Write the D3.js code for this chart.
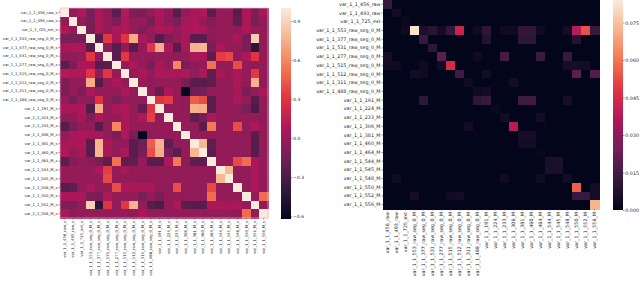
<!DOCTYPE html>
<html>
<head>
<meta charset="utf-8">
<script src="https://cdn.jsdelivr.net/npm/d3@7"></script>
<style>
  body { margin: 0; background: #fff; }
  svg { display: block; }
  text { font-family: "DejaVu Sans", sans-serif; fill: #262626; }
</style>
</head>
<body>
<svg id="chart" width="640" height="281"></svg>
<script>
// labels
const leftLabels = [
  "var_1_1_456_raw_s", "var_1_1_493_raw_s", "var_1_1_725_ext_s",
  "var_1_1_553_raw_seg_0_M_s", "var_1_1_377_raw_seg_0_M_s", "var_1_1_531_raw_seg_0_M_s",
  "var_1_1_277_raw_seg_0_M_s", "var_1_1_515_raw_seg_0_M_s", "var_1_1_512_raw_seg_0_M_s",
  "var_1_1_311_raw_seg_0_M_s", "var_1_1_488_raw_seg_0_M_s",
  "var_1_1_191_M_s", "var_1_1_224_M_s", "var_1_1_233_M_s", "var_1_1_306_M_s",
  "var_1_1_381_M_s", "var_1_1_460_M_s", "var_1_1_464_M_s", "var_1_1_544_M_s",
  "var_1_1_545_M_s", "var_1_1_548_M_s", "var_1_1_550_M_s", "var_1_1_552_M_s", "var_1_1_556_M_s"
];
const rightLabels = [
  "var_1_1_456_raw", "var_1_1_493_raw", "var_1_1_725_ext",
  "var_1_1_553_raw_seg_0_M", "var_1_1_377_raw_seg_0_M", "var_1_1_531_raw_seg_0_M",
  "var_1_1_277_raw_seg_0_M", "var_1_1_515_raw_seg_0_M", "var_1_1_512_raw_seg_0_M",
  "var_1_1_311_raw_seg_0_M", "var_1_1_488_raw_seg_0_M",
  "var_1_1_191_M", "var_1_1_224_M", "var_1_1_233_M", "var_1_1_306_M",
  "var_1_1_381_M", "var_1_1_460_M", "var_1_1_464_M", "var_1_1_544_M",
  "var_1_1_545_M", "var_1_1_548_M", "var_1_1_550_M", "var_1_1_552_M", "var_1_1_556_M"
];

// correlation matrix (left)
const leftValues = [
  [1, -0.03, 0.08, -0.12, 0.06, -0.04, -0.24, 0.09, -0.1, -0.11, -0.02, 0.07, -0.04, -0.26, -0.03, 0.06, 0.08, -0.24, -0.02, -0.01, -0.25, 0.07, -0.1, 0.05],
  [-0.03, 1, -0.02, -0.12, 0.07, -0.04, -0.11, 0.08, -0.03, -0.02, -0.13, 0.06, -0.04, -0.12, 0.05, 0.07, -0.03, -0.08, -0.02, -0.03, -0.22, 0.06, -0.12, -0.04],
  [0.08, -0.02, 1, -0.12, 0.06, -0.03, 0.07, 0.08, -0.03, -0.1, -0.03, 0.07, 0.06, -0.02, 0.07, 0.08, 0.06, -0.04, -0.03, -0.02, -0.04, 0.07, -0.03, -0.02],
  [-0.12, -0.12, -0.12, 1, -0.26, 0.32, 0.06, 0.3, 0.74, 0.07, -0.04, -0.27, -0.1, -0.03, 0.06, -0.24, -0.24, -0.05, -0.02, -0.03, 0.06, -0.11, 0.88, -0.03],
  [0.06, 0.07, 0.06, -0.26, 1, -0.04, -0.25, -0.02, -0.26, -0.03, 0.3, 0.74, 0.07, -0.26, 0.05, 0.76, 0.78, -0.12, 0.07, -0.02, -0.03, -0.11, -0.42, -0.04],
  [-0.04, -0.04, -0.03, 0.32, -0.04, 1, -0.24, 0.32, -0.03, -0.02, -0.04, -0.03, -0.02, -0.04, -0.03, 0.07, 0.06, -0.23, 0.33, 0.38, -0.03, 0.08, 0.3, -0.02],
  [-0.24, -0.11, 0.07, 0.06, -0.25, -0.24, 1, -0.02, 0.07, -0.03, -0.12, 0.06, -0.03, 0.6, -0.11, -0.04, -0.03, 0.52, -0.02, -0.03, 0.4, -0.02, -0.04, -0.03],
  [0.09, 0.08, 0.08, 0.3, -0.02, 0.32, -0.02, 1, -0.03, 0.07, -0.02, 0.08, 0.07, 0.06, 0.08, -0.03, 0.07, -0.22, 0.06, -0.03, 0.07, -0.02, 0.32, -0.03],
  [-0.1, -0.03, -0.03, 0.74, -0.26, -0.03, 0.07, -0.03, 1, -0.02, -0.04, -0.03, -0.02, -0.03, -0.12, -0.24, -0.25, -0.22, -0.03, -0.02, 0.06, -0.03, 0.76, -0.04],
  [-0.11, -0.02, -0.1, 0.07, -0.03, -0.02, -0.03, 0.07, -0.02, 1, -0.03, -0.2, 0.07, -0.02, -0.6, -0.16, -0.14, -0.03, -0.02, -0.04, 0.06, -0.12, -0.03, 0.06],
  [-0.02, -0.13, -0.03, -0.04, 0.3, -0.04, -0.12, -0.02, -0.04, -0.03, 1, 0.3, 0.34, -0.03, -0.04, 0.45, 0.4, -0.24, -0.03, -0.02, 0.05, -0.03, -0.26, -0.02],
  [0.07, 0.06, 0.07, -0.27, 0.74, -0.03, 0.06, 0.08, -0.03, -0.2, 0.3, 1, -0.03, -0.02, -0.04, 0.76, 0.74, -0.24, -0.03, -0.02, -0.04, -0.12, -0.3, -0.03],
  [-0.04, -0.04, 0.06, -0.1, 0.07, -0.02, -0.03, 0.07, -0.02, 0.07, 0.34, -0.03, 1, -0.02, -0.03, -0.22, -0.12, 0.07, -0.03, -0.02, -0.04, -0.03, -0.02, -0.04],
  [-0.26, -0.12, -0.02, -0.03, -0.26, -0.04, 0.6, 0.06, -0.03, -0.02, -0.03, -0.02, -0.02, 1, -0.03, -0.04, -0.24, 0.55, -0.03, -0.02, 0.4, -0.03, 0.07, -0.02],
  [-0.03, 0.05, 0.07, 0.06, 0.05, -0.03, -0.11, 0.08, -0.12, -0.6, -0.04, -0.04, -0.03, -0.03, 1, -0.03, -0.02, -0.04, -0.03, -0.02, -0.03, -0.04, -0.24, -0.03],
  [0.06, 0.07, 0.08, -0.24, 0.76, 0.07, -0.04, -0.03, -0.24, -0.16, 0.45, 0.76, -0.22, -0.04, -0.03, 1, 0.78, -0.22, -0.03, -0.02, -0.04, -0.03, -0.26, -0.02],
  [0.08, -0.03, 0.06, -0.24, 0.78, 0.06, -0.03, 0.07, -0.25, -0.14, 0.4, 0.74, -0.12, -0.24, -0.02, 0.78, 1, -0.24, -0.02, -0.03, -0.03, -0.04, -0.25, -0.03],
  [-0.24, -0.08, -0.04, -0.05, -0.12, -0.23, 0.52, -0.22, -0.22, -0.03, -0.24, -0.24, 0.07, 0.55, -0.04, -0.22, -0.24, 1, -0.03, -0.02, 0.38, 0.5, 0.07, -0.03],
  [-0.02, -0.02, -0.03, -0.02, 0.07, 0.33, -0.02, 0.06, -0.03, -0.02, -0.03, -0.03, -0.03, -0.03, -0.03, -0.03, -0.02, -0.03, 1, 0.78, -0.03, -0.02, 0.07, -0.03],
  [-0.01, -0.03, -0.02, -0.03, -0.02, 0.38, -0.03, -0.03, -0.02, -0.04, -0.02, -0.02, -0.02, -0.02, -0.02, -0.02, -0.03, -0.02, 0.78, 1, -0.04, -0.03, 0.06, -0.02],
  [-0.25, -0.22, -0.04, 0.06, -0.03, -0.03, 0.4, 0.07, 0.06, 0.06, 0.05, -0.04, -0.04, 0.4, -0.03, -0.04, -0.03, 0.38, -0.03, -0.04, 1, -0.03, 0.07, -0.04],
  [0.07, 0.06, 0.07, -0.11, -0.11, 0.08, -0.02, -0.02, -0.03, -0.12, -0.03, -0.12, -0.03, -0.03, -0.04, -0.03, -0.04, 0.5, -0.02, -0.03, -0.03, 1, -0.03, 0.5],
  [-0.1, -0.12, -0.03, 0.88, -0.42, 0.3, -0.04, 0.32, 0.76, -0.03, -0.26, -0.3, -0.02, 0.07, -0.24, -0.26, -0.25, 0.07, 0.07, 0.06, 0.07, -0.03, 1, -0.03],
  [0.05, -0.04, -0.02, -0.03, -0.04, -0.02, -0.03, -0.03, -0.04, 0.06, -0.02, -0.03, -0.04, -0.02, -0.03, -0.02, -0.03, -0.03, -0.03, -0.02, -0.04, 0.5, -0.03, 1]
];

// right matrix
const rightValues = [
  [0.012, 0, 0, 0, 0, 0, 0, 0, 0, 0, 0, 0, 0, 0, 0, 0, 0, 0, 0, 0, 0, 0, 0, 0],
  [0, 0.004, 0, 0, 0, 0, 0, 0, 0, 0, 0, 0, 0, 0, 0, 0, 0, 0, 0, 0, 0, 0, 0, 0],
  [0, 0, 0.002, 0, 0, 0, 0, 0, 0, 0, 0, 0, 0, 0, 0, 0, 0, 0, 0, 0, 0, 0, 0, 0],
  [0, 0, 0.003, 0.082, 0.006, 0.009, 0.004, 0.011, 0.042, 0, 0.003, 0.01, 0, 0.003, 0.003, 0.011, 0.011, 0.003, 0, 0, 0.004, 0.038, 0.053, 0.012],
  [0, 0, 0, 0, 0.012, 0, 0, 0, 0, 0, 0, 0.008, 0, 0, 0, 0.01, 0.01, 0, 0, 0, 0, 0.008, 0, 0],
  [0, 0, 0, 0, 0, 0.01, 0, 0, 0, 0, 0, 0, 0, 0, 0, 0, 0, 0, 0, 0, 0, 0, 0, 0],
  [0.005, 0, 0, 0, 0, 0, 0.02, 0, 0, 0, 0.003, 0, 0, 0.015, 0, 0, 0, 0.013, 0, 0, 0.012, 0, 0, 0],
  [0.003, 0.003, 0, 0, 0.003, 0, 0.004, 0.045, 0, 0, 0, 0, 0, 0, 0, 0, 0, 0, 0, 0, 0.005, 0.005, 0.004, 0],
  [0, 0, 0, 0.004, 0.003, 0, 0, 0, 0.014, 0, 0, 0.004, 0, 0, 0, 0, 0, 0, 0, 0, 0, 0.02, 0, 0.018],
  [0, 0, 0, 0, 0, 0, 0, 0, 0, 0.003, 0, 0, 0, 0, 0.004, 0, 0, 0, 0, 0, 0, 0, 0, 0],
  [0, 0, 0, 0, 0, 0, 0, 0, 0, 0, 0.003, 0.004, 0, 0, 0, 0, 0, 0, 0, 0, 0, 0, 0, 0],
  [0, 0, 0, 0, 0.01, 0, 0, 0, 0, 0, 0.01, 0.012, 0, 0, 0, 0.014, 0.014, 0, 0, 0, 0.005, 0, 0, 0],
  [0, 0, 0, 0, 0, 0, 0, 0, 0, 0, 0, 0, 0.002, 0, 0, 0, 0, 0, 0, 0, 0, 0, 0, 0],
  [0, 0, 0, 0, 0, 0, 0, 0, 0, 0, 0, 0, 0, 0.004, 0, 0, 0, 0.004, 0, 0, 0, 0, 0, 0],
  [0, 0, 0, 0, 0, 0, 0, 0, 0, 0.004, 0, 0, 0, 0, 0.038, 0, 0, 0, 0, 0, 0, 0, 0, 0],
  [0, 0, 0, 0, 0, 0, 0, 0, 0, 0, 0, 0, 0, 0, 0, 0.005, 0.005, 0, 0, 0, 0, 0, 0, 0],
  [0, 0, 0, 0, 0, 0, 0, 0, 0, 0, 0, 0, 0, 0, 0, 0.004, 0.004, 0, 0, 0, 0, 0, 0, 0],
  [0, 0, 0, 0, 0, 0, 0, 0, 0, 0, 0, 0, 0, 0, 0, 0, 0, 0.001, 0, 0, 0, 0, 0, 0],
  [0, 0, 0, 0, 0, 0, 0, 0, 0, 0, 0, 0, 0, 0, 0, 0, 0, 0, 0.006, 0.006, 0, 0, 0, 0],
  [0, 0, 0, 0, 0, 0, 0, 0, 0, 0, 0, 0, 0, 0, 0, 0, 0, 0, 0.006, 0.006, 0, 0, 0, 0],
  [0, 0.003, 0, 0, 0, 0, 0, 0, 0, 0, 0, 0, 0, 0.003, 0, 0, 0, 0.003, 0, 0, 0.004, 0, 0, 0],
  [0, 0, 0, 0, 0, 0, 0, 0, 0, 0, 0, 0, 0, 0, 0, 0, 0, 0, 0, 0, 0, 0.056, 0, 0.004],
  [0, 0, 0, 0.005, 0, 0, 0, 0.003, 0.004, 0, 0, 0, 0, 0, 0, 0, 0, 0, 0, 0, 0, 0.012, 0.012, 0.004],
  [0, 0, 0, 0, 0, 0, 0, 0, 0, 0, 0, 0, 0, 0, 0, 0, 0, 0, 0, 0, 0, 0, 0, 0.072]
];

const leftTicks = [-0.6, -0.3, 0.0, 0.3, 0.6, 0.9];
const rightTicks = [0, 0.015, 0.03, 0.045, 0.06, 0.075];

// seaborn "rocket" colormap
const rocketStops = ["#03051a", "#35193e", "#701f57", "#ad1759", "#e13342", "#f37651", "#f6b48f", "#faebdd"];
const rocket = d3.scaleLinear()
  .domain(d3.range(rocketStops.length).map(i => i / (rocketStops.length - 1)))
  .range(rocketStops)
  .interpolate(d3.interpolateRgb);

const svg = d3.select("#chart");
const defs = svg.append("defs");

function drawHeatmap(o) {
  const n = o.labels.length;
  const x = d3.scaleBand().domain(d3.range(n)).range([o.x0, o.x1]);
  const y = d3.scaleBand().domain(d3.range(n)).range([o.y0, o.y1]);
  const norm = d3.scaleLinear().domain([o.vmin, o.vmax]).range([0, 1]).clamp(true);

  const cells = [];
  o.values.forEach((row, i) => row.forEach((v, j) => cells.push({ i, j, v })));

  svg.append("g")
    .attr("shape-rendering", "crispEdges")
    .selectAll("rect")
    .data(cells)
    .join("rect")
    .attr("x", d => x(d.j))
    .attr("y", d => y(d.i))
    .attr("width", x.bandwidth() + 0.6)
    .attr("height", y.bandwidth() + 0.6)
    .attr("fill", d => rocket(norm(d.v)));

  // thin frame seen round the left map
  if (o.frame) {
    svg.append("rect")
      .attr("x", o.x0).attr("y", o.y0)
      .attr("width", o.x1 - o.x0).attr("height", o.y1 - o.y0)
      .attr("fill", "none")
      .attr("stroke", o.frame)
      .attr("stroke-width", 0.7);
  }

  // y axis
  const ya = svg.append("g")
    .attr("transform", `translate(${o.x0},0)`)
    .call(d3.axisLeft(y).tickSize(1.5).tickPadding(1).tickFormat(i => o.labels[i]));
  ya.select(".domain").remove();
  ya.selectAll("line").attr("stroke", "#333").attr("stroke-width", 0.5);
  ya.selectAll("text").attr("font-size", o.fs).attr("fill", "#262626");

  // x axis, labels turned upright
  const xa = svg.append("g")
    .attr("transform", `translate(0,${o.y1})`)
    .call(d3.axisBottom(x).tickSize(1.5).tickFormat(i => o.labels[i]));
  xa.select(".domain").remove();
  xa.selectAll("line").attr("stroke", "#333").attr("stroke-width", 0.5);
  xa.selectAll("text")
    .attr("font-size", o.fs)
    .attr("fill", "#262626")
    .attr("transform", "rotate(-90)")
    .attr("text-anchor", "end")
    .attr("x", -3)
    .attr("y", 0)
    .attr("dy", "0.32em");

  // colorbar
  const gid = "grad" + o.id;
  const grad = defs.append("linearGradient").attr("id", gid)
    .attr("x1", 0).attr("y1", 1).attr("x2", 0).attr("y2", 0);
  d3.range(0, 1.0001, 0.02).forEach(t => {
    grad.append("stop").attr("offset", t).attr("stop-color", rocket(t));
  });
  const cy = d3.scaleLinear().domain([o.vmin, o.vmax]).range([o.cb.y1, o.cb.y0]);
  svg.append("rect")
    .attr("x", o.cb.x0).attr("y", o.cb.y0)
    .attr("width", o.cb.x1 - o.cb.x0).attr("height", o.cb.y1 - o.cb.y0)
    .attr("fill", `url(#${gid})`);
  const ca = svg.append("g")
    .attr("transform", `translate(${o.cb.x1},0)`)
    .call(d3.axisRight(cy).tickValues(o.ticks).tickSize(1.5).tickPadding(0.8).tickFormat(o.fmt));
  ca.select(".domain").remove();
  ca.selectAll("line").attr("stroke", "#333").attr("stroke-width", 0.5);
  ca.selectAll("text").attr("font-size", o.cbfs).attr("fill", "#262626");
}

const minusFmt = f => v => d3.format(f)(v).replace("-", "\u2212");

drawHeatmap({
  id: "L", labels: leftLabels, values: leftValues,
  x0: 60, x1: 268, y0: 8, y1: 218,
  vmin: -0.62, vmax: 1.0, fs: 3.8, frame: "#eab9cc",
  cb: { x0: 281, x1: 291, y0: 8, y1: 219 },
  ticks: leftTicks, fmt: minusFmt(".1f"), cbfs: 4.4
});

drawHeatmap({
  id: "R", labels: rightLabels, values: rightValues,
  x0: 383, x1: 599, y0: 0, y1: 209,
  vmin: 0, vmax: 0.084, fs: 4.8,
  cb: { x0: 613, x1: 623, y0: 0, y1: 210 },
  ticks: rightTicks, fmt: d3.format(".3f"), cbfs: 4.8
});
</script>
</body>
</html>
